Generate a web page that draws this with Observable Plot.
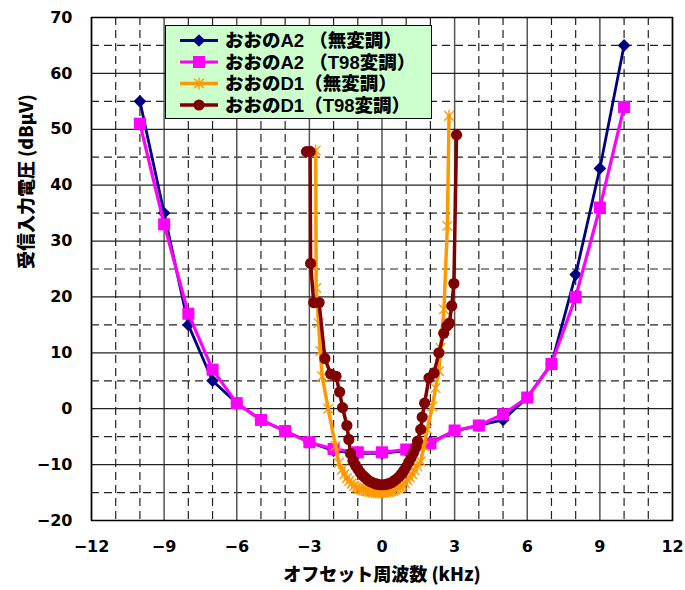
<!DOCTYPE html>
<html>
<head>
<meta charset="utf-8">
<script src="https://cdn.jsdelivr.net/npm/d3@7"></script>
<script src="https://cdn.jsdelivr.net/npm/@observablehq/plot@0.6"></script>
<style>
  body { margin: 0; background: #fff; }
  #chart { position: relative; width: 685px; height: 590px; }
  #chart svg { display: block; }
  .legend {
    position: absolute; left: 165px; top: 25px; width: 267px; height: 94px;
    box-sizing: border-box; background: #ccffcc; border: 1px solid #000;
  }
  .legend svg { position: absolute; left: 0; top: 0; }
  .legend .names {
    position: absolute; left: 59px; top: 4px; white-space: nowrap;
    font-family: "Liberation Sans", "Noto Sans CJK JP", sans-serif; font-weight: 900; font-size: 18.5px; line-height: 21.5px; color: #000;
  }
</style>
</head>
<body>
<div id="chart"></div>
<script>
// Offset frequency (kHz) of the A2 measurements
const a2Offsets = [-10, -9, -8, -7, -6, -5, -4, -3, -2, -1, 0, 1, 2, 3, 4, 5, 6, 7, 8, 9, 10];
// A2 receiver input voltage (dBμV), unmodulated and T98-modulated
const a2Plain = [55, 35, 15, 5, 1, -2, -4, -6, -7.5, -8, -8, -7.5, -6, -4, -3, -2, 2, 8, 24, 43, 65];
const a2T98   = [51, 33, 17, 7, 1, -2, -4, -6, -7.2, -7.8, -7.8, -7.3, -6.2, -3.9, -3, -1, 2, 8, 20, 36, 54];

// D1 unmodulated: offsets and levels
const d1PlainOffsets = [-2.74, -2.72, -2.62, -2.55, -2.47, -2.22, -1.92, -1.78,
  -1.65, -1.55, -1.45, -1.35, -1.25, -1.15, -1.05, -0.95, -0.85, -0.75, -0.65, -0.55,
  -0.45, -0.35, -0.25, -0.15, -0.05, 0.05, 0.15, 0.25, 0.35, 0.45, 0.55, 0.65, 0.75,
  0.85, 0.95, 1.05, 1.15, 1.25, 1.35, 1.45,
  1.6, 1.73, 1.87, 2.08, 2.21, 2.35, 2.42, 2.56, 2.7, 2.77];
const d1PlainLevels = [46.2, 21.6, 15.3, 10.3, 5.8, 0.0, -6.7, -9.7,
  -10.9, -11.7, -12.4, -12.9, -13.4, -13.8, -14.1, -14.3, -14.5, -14.6, -14.7, -14.8,
  -14.9, -14.9, -15.0, -15.0, -15.0, -15.0, -14.9, -14.9, -14.8, -14.7, -14.5, -14.3, -14.0,
  -13.7, -13.3, -12.8, -12.3, -11.7, -11.0, -10.3,
  -9.4, -6.7, -3.7, 0.4, 3.7, 6.7, 10.9, 17.8, 32.7, 52.4];

// D1 T98-modulated: offsets and levels
const d1T98Offsets = [-3.12, -2.97, -2.95, -2.82, -2.6, -2.36, -2.12, -1.9, -1.75, -1.63,
  -1.45, -1.37, -1.3, -1.2, -1.1, -1.0, -0.9, -0.8, -0.7, -0.6, -0.5, -0.4, -0.3, -0.2,
  -0.1, 0, 0.1, 0.2, 0.3, 0.4, 0.5, 0.6, 0.7, 0.8, 0.9, 1.0, 1.1, 1.2, 1.3, 1.4,
  1.47, 1.6, 1.66, 1.76, 1.94, 2.15, 2.35, 2.55, 2.68, 2.78, 2.88, 2.97, 3.08];
const d1T98Levels = [46.0, 46.0, 26.0, 19.0, 19.0, 9.0, 6.2, 5.8, 3.0, 0.2,
  -3.0, -5.5, -8.0, -9.3, -10.1, -10.8, -11.4, -11.9, -12.3, -12.7, -13.0, -13.2, -13.4, -13.5,
  -13.6, -13.6, -13.6, -13.5, -13.4, -13.2, -12.9, -12.6, -12.2, -11.7, -11.1, -10.4, -9.6, -8.8, -7.9, -6.9,
  -5.8, -3.7, -1.5, 1.0, 5.5, 6.4, 10.0, 13.5, 14.8, 15.3, 18.4, 22.4, 49.0];

const seriesNames = ["おおのA2 （無変調）", "おおのA2 （T98変調）", "おおのD1（無変調）", "おおのD1（T98変調）"];
const seriesColors = ["#000080", "#ff00ff", "#ff9900", "#800000"];

// Axis ticks and labels
const xTicks = [-12, -9, -6, -3, 0, 3, 6, 9, 12];
const yTicks = [-20, -10, 0, 10, 20, 30, 40, 50, 60, 70];
const xTitle = "オフセット周波数 (kHz)";
const yTitle = "受信入力電圧 (dBμV)";

// Dashed grid between the labelled ticks
const xDashed = d3.range(-11, 12).filter(v => v % 3 !== 0);
const yDashed = d3.range(-15, 70, 10);

const fmt = d => (d < 0 ? "\u2212" + Math.abs(d) : String(d));

const table = (xs, ys) => xs.map((x, i) => ({x, y: ys[i]}));
const a2PlainData = table(a2Offsets, a2Plain);
const a2T98Data = table(a2Offsets, a2T98);
const d1PlainData = table(d1PlainOffsets, d1PlainLevels);
const d1T98Data = table(d1T98Offsets, d1T98Levels);

// Star marker: an X crossed by a vertical stroke
const star = {
  draw(context, size) {
    const r = Math.sqrt(size) * 0.62;
    const d = r * 0.8;
    context.moveTo(0, -r); context.lineTo(0, r);
    context.moveTo(-d, -d); context.lineTo(d, d);
    context.moveTo(-d, d); context.lineTo(d, -d);
  }
};

const gridStroke = "#222";
const symbolSpec = [
  {symbol: d3.symbolDiamond2, r: 5.7, fill: seriesColors[0], stroke: "none", sw: 0, lw: 2.8},
  {symbol: d3.symbolSquare, r: 6.8, fill: seriesColors[1], stroke: "none", sw: 0, lw: 3.2},
  {symbol: star, r: 5.5, fill: "none", stroke: seriesColors[2], sw: 1.4, lw: 3.5},
  {symbol: d3.symbolCircle, r: 5.6, fill: seriesColors[3], stroke: "none", sw: 0, lw: 3.5}
];

const seriesMarks = [a2PlainData, a2T98Data, d1PlainData, d1T98Data].flatMap((data, i) => {
  const s = symbolSpec[i];
  return [
    Plot.line(data, {x: "x", y: "y", stroke: seriesColors[i], strokeWidth: s.lw, curve: "linear"}),
    Plot.dot(data, {x: "x", y: "y", symbol: s.symbol, r: s.r, fill: s.fill, stroke: s.stroke, strokeWidth: s.sw})
  ];
});

const chart = Plot.plot({
  width: 685,
  height: 590,
  marginLeft: 91,
  marginRight: 13,
  marginTop: 17,
  marginBottom: 70,
  x: {domain: [-12, 12]},
  y: {domain: [-20, 70]},
  style: {fontFamily: "'DejaVu Sans', sans-serif", fontWeight: "bold", fontSize: "16px", color: "#000", background: "#fff"},
  marks: [
    Plot.ruleX(xDashed, {stroke: gridStroke, strokeWidth: 1.2, strokeDasharray: "8,5"}),
    Plot.ruleY(yDashed, {stroke: gridStroke, strokeWidth: 1.2, strokeDasharray: "8,5"}),
    Plot.ruleX(xTicks, {stroke: "#555", strokeWidth: 1.5}),
    Plot.ruleY(yTicks, {stroke: gridStroke, strokeWidth: 1.2}),
    Plot.axisX(xTicks, {tickSize: 0, tickPadding: 20, tickFormat: fmt, label: null, fontSize: 16}),
    Plot.axisY(yTicks, {tickSize: 0, tickPadding: 19, tickFormat: fmt, label: null, fontSize: 16}),
    ...seriesMarks,
    Plot.frame({stroke: "#000", strokeWidth: 1.5}),
    Plot.text([xTitle], {frameAnchor: "bottom", dy: 60, fontFamily: "'Noto Sans CJK JP', sans-serif", fontWeight: 900, fontSize: 18}),
    Plot.text([yTitle], {frameAnchor: "left", dx: -64, rotate: -90, fontFamily: "'Noto Sans CJK JP', sans-serif", fontWeight: 900, fontSize: 18})
  ]
});

const root = document.getElementById("chart");
root.appendChild(chart);

// Legend box drawn over the plot area: symbols on the left, names as one text block
const rowStep = 21.5;
const rowTop = 14.5;
const legend = document.createElement("div");
legend.className = "legend";
const keys = symbolSpec.map((s, i) => {
  const y = rowTop + i * rowStep;
  const path = d3.symbol(s.symbol, Math.PI * s.r * s.r)();
  return `<line x1="14" x2="52" y1="${y}" y2="${y}" stroke="${seriesColors[i]}" stroke-width="${s.lw}"/>` +
    `<path transform="translate(33,${y})" d="${path}" fill="${s.fill}" stroke="${s.stroke}" stroke-width="${s.sw}"/>`;
}).join("");
legend.innerHTML =
  `<svg width="58" height="92" viewBox="0 0 58 92">${keys}</svg>` +
  `<div class="names">${seriesNames.join("<br>")}</div>`;
root.appendChild(legend);
</script>
</body>
</html>
